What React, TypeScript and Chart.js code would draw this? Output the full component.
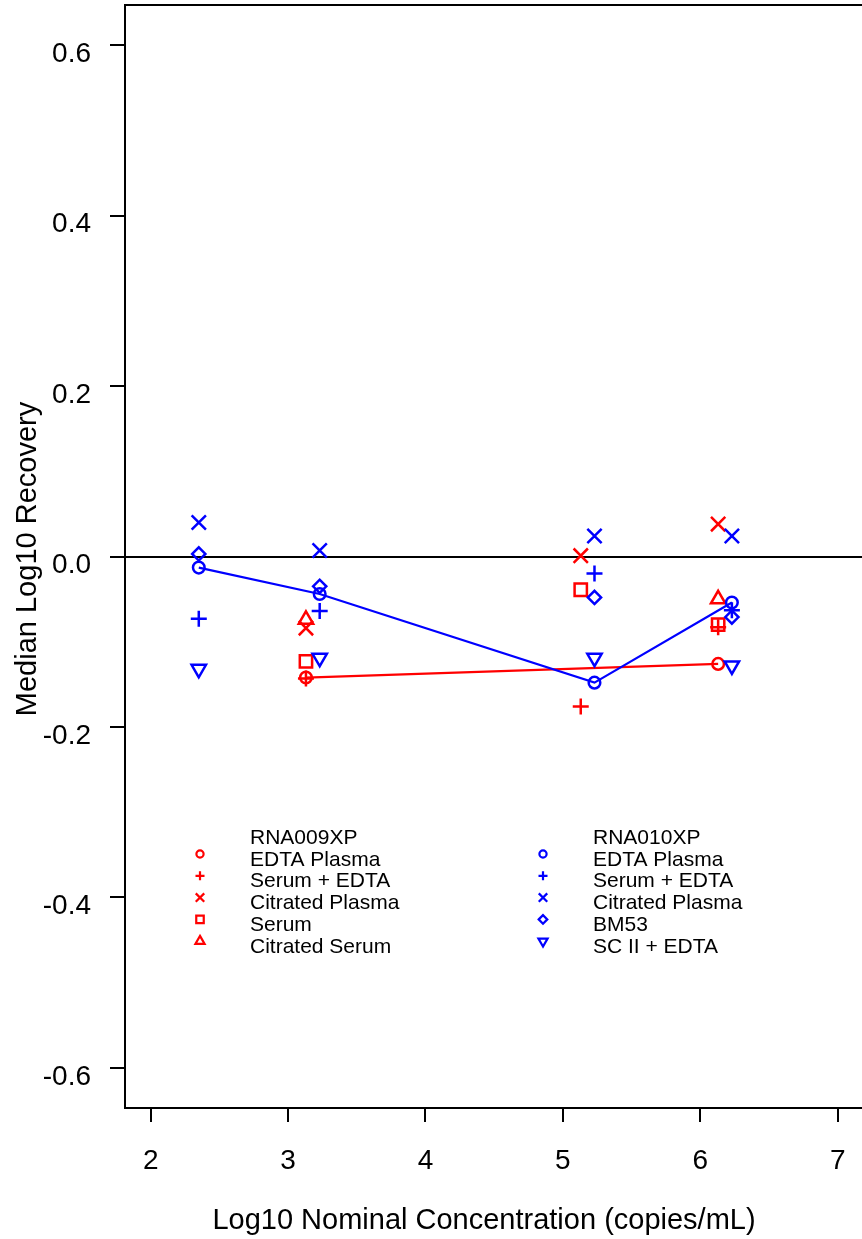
import React, { useEffect, useRef } from 'react';
import { Chart, registerables } from 'chart.js';
import { drawPoint } from 'chart.js/helpers';

Chart.register(...registerables);

// ---- axis ticks ----
const xTicks = [2, 3, 4, 5, 6, 7];
const yTicks = [-0.6, -0.4, -0.2, 0, 0.2, 0.4, 0.6];

// ---- RNA009XP (red) ----
const redX = [3.13, 5.13, 6.13];
const redEdtaPlasmaX = [3.13, 6.13];
const redEdtaPlasma = [-0.142, -0.126];
const redSerumEdta = [-0.143, -0.176, -0.083];
const redCitratedPlasma = [-0.084, 0.001, 0.038];
const redSerum = [-0.123, -0.039, -0.080];
const redCitratedSerumX = [3.13, 6.13];
const redCitratedSerum = [-0.074, -0.05];

// ---- RNA010XP (blue) ----
const blueX = [2.35, 3.23, 5.23, 6.23];
const blueEdtaPlasma = [-0.013, -0.044, -0.148, -0.054];
const blueSerumEdta = [-0.073, -0.064, -0.02, -0.063];
const blueCitratedPlasma = [0.04, 0.007, 0.024, 0.024];
const blueBM53 = [0.003, -0.035, -0.048, -0.071];
const blueSCII = [-0.132, -0.119, -0.119, -0.128];

// ---- legend text ----
const legend1Title = 'RNA009XP';
const legend1Labels = ['EDTA Plasma', 'Serum + EDTA', 'Citrated Plasma', 'Serum', 'Citrated Serum'];
const legend2Title = 'RNA010XP';
const legend2Labels = ['EDTA Plasma', 'Serum + EDTA', 'Citrated Plasma', 'BM53', 'SC II + EDTA'];

const xTitle = 'Log10 Nominal Concentration (copies/mL)';
const yTitle = 'Median Log10 Recovery';

const RED = '#ff0000';
const BLUE = '#0000ff';
const FONT = '"Liberation Sans", Arial, Helvetica, sans-serif';

type Marker = { style: string; rotation: number; radius: number; legendRadius: number };
const M_CIRCLE: Marker = { style: 'circle', rotation: 0, radius: 5.8, legendRadius: 3.6 };
const M_PLUS: Marker = { style: 'cross', rotation: 0, radius: 8, legendRadius: 4.5 };
const M_X: Marker = { style: 'crossRot', rotation: 0, radius: 10.1, legendRadius: 6 };
const M_SQUARE: Marker = { style: 'rect', rotation: 0, radius: 8.7, legendRadius: 5.3 };
const M_TRI: Marker = { style: 'triangle', rotation: 0, radius: 8.3, legendRadius: 5.3 };
const M_DIAMOND: Marker = { style: 'rectRot', rotation: 0, radius: 6.6, legendRadius: 4.3 };
const M_TRIDOWN: Marker = { style: 'triangle', rotation: 180, radius: 8.3, legendRadius: 5.3 };

const redMarkers = [M_CIRCLE, M_PLUS, M_X, M_SQUARE, M_TRI];
const blueMarkers = [M_CIRCLE, M_PLUS, M_X, M_DIAMOND, M_TRIDOWN];

function mk(label: string, xs: number[], ys: number[], color: string, m: Marker, showLine: boolean, order: number) {
  return {
    label,
    data: xs.map((x, i) => ({ x, y: ys[i] })),
    showLine,
    borderColor: color,
    borderWidth: 2.2,
    backgroundColor: 'rgba(0,0,0,0)',
    pointStyle: m.style,
    pointRotation: m.rotation,
    pointRadius: m.radius,
    pointHoverRadius: m.radius,
    pointBorderWidth: 2.5,
    pointBorderColor: color,
    pointBackgroundColor: 'rgba(0,0,0,0)',
    order,
  };
}

const zeroPad = (s: any) => {
  s.paddingTop = 0;
  s.paddingBottom = 0;
  s.paddingLeft = 0;
  s.paddingRight = 0;
};

const framePlugin = {
  id: 'frame',
  beforeDatasetsDraw(chart: any) {
    const { ctx, chartArea, scales } = chart;
    const y0 = Math.round(scales.y.getPixelForValue(0));
    ctx.save();
    ctx.strokeStyle = '#000';
    ctx.lineWidth = 2;
    ctx.beginPath();
    ctx.moveTo(chartArea.left, y0);
    ctx.lineTo(chartArea.right, y0);
    ctx.stroke();
    ctx.beginPath();
    ctx.moveTo(chartArea.left, Math.round(chartArea.top));
    ctx.lineTo(chartArea.right, Math.round(chartArea.top));
    ctx.stroke();
    ctx.restore();
  },
  afterDraw(chart: any) {
    const { ctx } = chart;
    ctx.save();
    ctx.fillStyle = '#000';
    ctx.font = `29px ${FONT}`;
    ctx.textAlign = 'center';
    ctx.textBaseline = 'middle';
    ctx.fillText(xTitle, 484, 1221);
    ctx.save();
    ctx.translate(28, 559);
    ctx.rotate(-Math.PI / 2);
    ctx.fillText(yTitle, 0, 0);
    ctx.restore();

    // legends
    const rowY0 = 838;
    const rowStep = 21.8;
    const drawLegend = (title: string, labels: string[], markers: Marker[], color: string, mx: number, tx: number) => {
      ctx.font = `21px ${FONT}`;
      ctx.textAlign = 'left';
      ctx.textBaseline = 'middle';
      ctx.fillStyle = '#000';
      ctx.fillText(title, tx, rowY0);
      labels.forEach((lab, i) => {
        const ry = rowY0 + rowStep * (i + 1);
        ctx.fillStyle = '#000';
        ctx.fillText(lab, tx, ry);
        const m = markers[i];
        ctx.save();
        ctx.strokeStyle = color;
        ctx.fillStyle = 'rgba(0,0,0,0)';
        ctx.lineWidth = 2.2;
        drawPoint(ctx, { pointStyle: m.style, rotation: m.rotation, radius: m.legendRadius, borderWidth: 2.2 } as any, mx, ry - 5.8);
        ctx.restore();
      });
    };
    drawLegend(legend1Title, legend1Labels, redMarkers, RED, 200, 250);
    drawLegend(legend2Title, legend2Labels, blueMarkers, BLUE, 543, 593);
    ctx.restore();
  },
};

export default function App() {
  const ref = useRef<HTMLCanvasElement | null>(null);
  useEffect(() => {
    if (!ref.current) return;
    const datasets = [
      mk('RNA010XP EDTA Plasma', blueX, blueEdtaPlasma, BLUE, M_CIRCLE, true, 0),
      mk('RNA010XP Serum + EDTA', blueX, blueSerumEdta, BLUE, M_PLUS, false, 1),
      mk('RNA010XP Citrated Plasma', blueX, blueCitratedPlasma, BLUE, M_X, false, 1),
      mk('RNA010XP BM53', blueX, blueBM53, BLUE, M_DIAMOND, false, 1),
      mk('RNA010XP SC II + EDTA', blueX, blueSCII, BLUE, M_TRIDOWN, false, 1),
      mk('RNA009XP EDTA Plasma', redEdtaPlasmaX, redEdtaPlasma, RED, M_CIRCLE, true, 2),
      mk('RNA009XP Serum + EDTA', redX, redSerumEdta, RED, M_PLUS, false, 3),
      mk('RNA009XP Citrated Plasma', redX, redCitratedPlasma, RED, M_X, false, 3),
      mk('RNA009XP Serum', redX, redSerum, RED, M_SQUARE, false, 3),
      mk('RNA009XP Citrated Serum', redCitratedSerumX, redCitratedSerum, RED, M_TRI, false, 3),
    ];
    const chart = new Chart(ref.current, {
      type: 'scatter',
      data: { datasets } as any,
      options: {
        responsive: false,
        animation: false,
        events: [],
        layout: { autoPadding: false, padding: { top: 5, left: 0, right: 0, bottom: 0 } },
        plugins: { legend: { display: false }, tooltip: { enabled: false } },
        scales: {
          x: {
            type: 'linear',
            min: 1.813,
            max: 7.177,
            afterFit: (s: any) => { s.height = 131; zeroPad(s); },
            afterBuildTicks: (s: any) => { s.ticks = xTicks.map((v) => ({ value: v })); },
            grid: { drawOnChartArea: false, drawTicks: true, tickLength: 14, color: '#000', lineWidth: 2 },
            border: { display: true, color: '#000', width: 2 },
            ticks: {
              color: '#000',
              font: { family: FONT, size: 28 },
              padding: 22,
              maxRotation: 0,
              autoSkip: false,
              callback: (v: any) => String(v),
            },
          },
          y: {
            type: 'linear',
            min: -0.647,
            max: 0.647,
            afterFit: (s: any) => { s.width = 125; zeroPad(s); },
            afterBuildTicks: (s: any) => { s.ticks = yTicks.map((v) => ({ value: v })); },
            grid: { drawOnChartArea: false, drawTicks: true, tickLength: 15, color: '#000', lineWidth: 2 },
            border: { display: true, color: '#000', width: 2 },
            ticks: {
              color: '#000',
              font: { family: FONT, size: 28 },
              padding: 19,
              labelOffset: 9,
              autoSkip: false,
              callback: (v: any) => Number(v).toFixed(1),
            },
          },
        },
      } as any,
      plugins: [framePlugin],
    });
    return () => chart.destroy();
  }, []);
  return (
    <div style={{ position: 'absolute', left: 0, top: 0, width: 862, height: 1239, background: '#fff' }}>
      <canvas ref={ref} width={862} height={1239} style={{ display: 'block' }} />
    </div>
  );
}
